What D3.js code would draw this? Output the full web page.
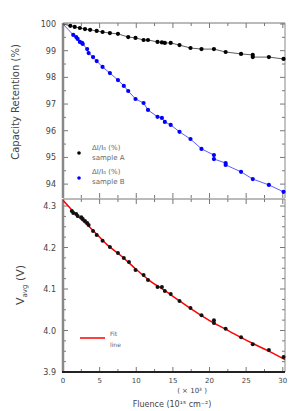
<!DOCTYPE html>
<html>
<head>
<meta charset="utf-8">
<script src="https://cdn.jsdelivr.net/npm/d3@7"></script>
<style>
  body { margin: 0; background: #fff; }
  text { font-family: "DejaVu Sans", sans-serif; fill: #444; }
</style>
</head>
<body>
<div id="chart"></div>
<script>
// top panel, black series
const blackX = [1.0, 1.6, 2.3, 3.0, 3.7, 4.6, 5.4, 6.4, 7.5, 8.9, 9.9, 11.0, 11.6, 12.9, 13.5, 13.9, 14.7, 15.9, 17.4, 18.9, 20.6, 22.2, 24.3, 25.9, 25.9, 28.1, 30.1]
const blackY = [99.93, 99.89, 99.85, 99.81, 99.78, 99.74, 99.70, 99.66, 99.63, 99.51, 99.48, 99.40, 99.40, 99.33, 99.31, 99.29, 99.29, 99.21, 99.10, 99.06, 99.06, 98.95, 98.88, 98.84, 98.76, 98.76, 98.69]
// top panel, blue series
const blueX = [1.4, 1.8, 2.0, 2.3, 2.6, 2.7, 3.3, 3.5, 4.1, 4.6, 5.4, 6.4, 7.5, 8.3, 8.9, 9.9, 11.0, 11.6, 12.9, 13.5, 13.9, 14.7, 15.9, 17.4, 18.9, 20.6, 20.6, 22.2, 22.2, 24.3, 25.9, 28.1, 30.1]
const blueY = [99.59, 99.51, 99.44, 99.33, 99.29, 99.25, 99.06, 98.91, 98.76, 98.61, 98.39, 98.16, 97.90, 97.68, 97.49, 97.19, 97.04, 96.78, 96.52, 96.48, 96.33, 96.22, 95.96, 95.69, 95.32, 95.09, 94.94, 94.79, 94.72, 94.46, 94.19, 93.97, 93.71]
// bottom panel, measured points
const voltX = [1.2, 1.4, 1.8, 2.0, 2.5, 2.7, 3.0, 3.3, 3.5, 4.1, 4.6, 5.4, 6.4, 7.5, 8.3, 9.0, 9.9, 11.0, 11.6, 12.9, 13.5, 13.9, 14.7, 15.9, 17.4, 18.9, 20.6, 20.6, 22.2, 24.3, 25.9, 28.1, 30.1]
const voltY = [4.288, 4.283, 4.281, 4.276, 4.273, 4.269, 4.264, 4.259, 4.254, 4.240, 4.230, 4.216, 4.201, 4.187, 4.175, 4.165, 4.146, 4.134, 4.122, 4.105, 4.105, 4.095, 4.088, 4.071, 4.054, 4.037, 4.025, 4.018, 4.004, 3.984, 3.967, 3.953, 3.936]
// bottom panel, fit curve
const fitX = [0, 2, 4, 6, 8, 10, 12, 14, 16, 18, 20, 22, 24, 26, 28, 30.3]
const fitY = [4.314, 4.276, 4.243, 4.207, 4.179, 4.147, 4.118, 4.095, 4.070, 4.046, 4.024, 4.005, 3.986, 3.968, 3.951, 3.930]

const xTicks = [0, 5, 10, 15, 20, 25, 30]
const topTicks = [100, 99, 98, 97, 96, 95, 94]
const bottomTicks = [4.3, 4.2, 4.1, 4.0, 3.9]

const W = 291, H = 411
const LEFT = 63, RIGHT = 285
const svg = d3.select('#chart').append('svg').attr('width', W).attr('height', H)

const x = d3.scaleLinear().domain([0, 30.3]).range([LEFT, RIGHT])
const yTop = d3.scaleLinear().domain([93.48, 100]).range([198, 24])
const yBot = d3.scaleLinear().domain([3.9, 4.3145]).range([372, 200])

function zip(xs, ys) {
    return xs.map((v, i) => [v, ys[i]])
}

function frame(y, top, bottom, yMajor, yMinor, labels, fmt) {
    const g = svg.append('g')
    // x ticks, inward on both edges
    const xMinor = d3.range(0, 30.01, 2.5)
    xMinor.forEach(function (t) {
        const len = t % 5 === 0 ? 5 : 3
        g.append('line').attr('x1', x(t)).attr('x2', x(t)).attr('y1', top).attr('y2', top + len)
            .style('stroke', '#777').style('stroke-width', 1)
        g.append('line').attr('x1', x(t)).attr('x2', x(t)).attr('y1', bottom).attr('y2', bottom - len)
            .style('stroke', '#777').style('stroke-width', 1)
    })
    yMinor.forEach(function (t) {
        const major = yMajor.some(m => Math.abs(m - t) < 1e-6)
        const len = major ? 5 : 3
        g.append('line').attr('x1', LEFT).attr('x2', LEFT + len).attr('y1', y(t)).attr('y2', y(t))
            .style('stroke', '#777').style('stroke-width', 1)
        g.append('line').attr('x1', RIGHT).attr('x2', RIGHT - len).attr('y1', y(t)).attr('y2', y(t))
            .style('stroke', '#777').style('stroke-width', 1)
    })
    g.append('line').attr('x1', LEFT).attr('x2', RIGHT).attr('y1', top).attr('y2', top)
        .style('stroke', '#777').style('stroke-width', 1)
    g.append('line').attr('x1', RIGHT).attr('x2', RIGHT).attr('y1', top).attr('y2', bottom)
        .style('stroke', '#888').style('stroke-width', 1)
    g.append('line').attr('x1', LEFT).attr('x2', LEFT).attr('y1', top).attr('y2', bottom)
        .style('stroke', '#888').style('stroke-width', 2.5)
    labels.forEach(function (t) {
        g.append('text').attr('x', 56).attr('y', y(t) + 3)
            .attr('text-anchor', 'end').style('font-size', '8px').text(fmt(t))
    })
    return g
}

frame(yTop, 23, 198, topTicks, d3.range(94, 100.01, 0.5), topTicks, d3.format('d'))
frame(yBot, 199, 372, bottomTicks, d3.range(3.9, 4.31, 0.025).map(v => +v.toFixed(3)), bottomTicks, d3.format('.1f'))

// bottom x axis line
svg.append('line').attr('x1', LEFT - 1).attr('x2', RIGHT).attr('y1', 372).attr('y2', 372)
    .style('stroke', '#222').style('stroke-width', 1.8)

xTicks.forEach(function (t) {
    svg.append('text').attr('x', x(t)).attr('y', 383).attr('text-anchor', 'middle')
        .style('font-size', '7px').text(t)
})

// top panel curves
const lineTop = d3.line().x(d => x(d[0])).y(d => yTop(d[1]))
svg.append('path').datum([[0, 100]].concat(zip(blackX, blackY)))
    .attr('d', lineTop).style('fill', 'none').style('stroke', '#333').style('stroke-width', 0.8)
svg.append('path').datum([[0, 100]].concat(zip(blueX, blueY)))
    .attr('d', lineTop).style('fill', 'none').style('stroke', '#33f').style('stroke-width', 0.8)

svg.append('g').selectAll('circle').data(zip(blackX, blackY)).join('circle')
    .attr('cx', d => x(d[0])).attr('cy', d => yTop(d[1])).attr('r', 2.1).style('fill', '#000')
svg.append('g').selectAll('circle').data(zip(blueX, blueY)).join('circle')
    .attr('cx', d => x(d[0])).attr('cy', d => yTop(d[1])).attr('r', 2.1).style('fill', '#0000ff')

// bottom panel
const lineBot = d3.line().curve(d3.curveMonotoneX).x(d => x(d[0])).y(d => yBot(d[1]))
svg.append('path').datum(zip(fitX, fitY))
    .attr('d', lineBot).style('fill', 'none').style('stroke', '#f00').style('stroke-width', 1.5)
svg.append('g').selectAll('circle').data(zip(voltX, voltY)).join('circle')
    .attr('cx', d => x(d[0])).attr('cy', d => yBot(d[1])).attr('r', 2).style('fill', '#111')

// legends
svg.append('circle').attr('cx', 79).attr('cy', 153).attr('r', 1.8).style('fill', '#000')
svg.append('circle').attr('cx', 79).attr('cy', 178).attr('r', 1.8).style('fill', '#0000ff')
const legTxt = [['ΔI/I₀ (%)', 150], ['sample A', 160], ['ΔI/I₀ (%)', 174], ['sample B', 184]]
legTxt.forEach(function (l) {
    svg.append('text').attr('x', 92).attr('y', l[1]).style('font-size', '7px').style('fill', '#666').text(l[0])
})
svg.append('line').attr('x1', 80).attr('x2', 105).attr('y1', 338).attr('y2', 338)
    .style('stroke', '#f00').style('stroke-width', 1.5)
svg.append('text').attr('x', 110).attr('y', 336).style('font-size', '6px').style('fill', '#666').text('Fit')
svg.append('text').attr('x', 110).attr('y', 347).style('font-size', '6px').style('fill', '#666').text('line')

// axis titles
svg.append('text').attr('transform', 'translate(19,' + 102 + ') rotate(-90)')
    .attr('text-anchor', 'middle').style('font-size', '10px').text('Capacity Retention (%)')
svg.append('text').attr('transform', 'translate(24,' + 285 + ') rotate(-90)')
    .attr('text-anchor', 'middle').style('font-size', '11px')
    .html('V<tspan dy="3" font-size="7px">avg</tspan><tspan dy="-3"> (V)</tspan>')
svg.append('text').attr('x', 192).attr('y', 393).attr('text-anchor', 'middle')
    .style('font-size', '7px').text('( × 10³ )')
svg.append('text').attr('x', 172).attr('y', 407).attr('text-anchor', 'middle')
    .style('font-size', '8px').text('Fluence (10¹⁵ cm⁻²)')
</script>
</body>
</html>
